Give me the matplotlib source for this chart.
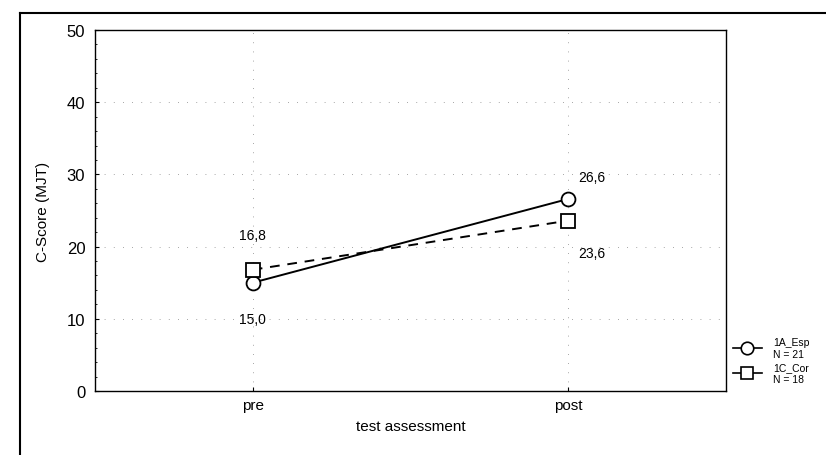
import matplotlib
matplotlib.use("Agg")
import matplotlib.pyplot as plt
from matplotlib.lines import Line2D
from matplotlib.ticker import MultipleLocator

categories = ["pre", "post"]
esp_values = [15.0, 26.6]
con_values = [16.8, 23.6]
esp_labels = ["15,0", "26,6"]
con_labels = ["16,8", "23,6"]
yticks = [0, 10, 20, 30, 40, 50]
legend_names = ["1A_Esp", "1C_Cor"]
legend_n = ["N = 21", "N = 18"]

plt.rcParams['font.family'] = ['Liberation Sans', 'DejaVu Sans']

fig = plt.figure(figsize=(8.26, 4.56), dpi=100)
W, H = 826, 456
L, R, T, B = 95, 726, 31, 392
ax = fig.add_axes([L / W, 1 - B / H, (R - L) / W, (B - T) / H])

x = list(range(len(categories)))
ax.plot(x, esp_values, color='black', lw=1.4, marker='o', ms=10,
        mfc='white', mec='black', mew=1.3, zorder=3)
ax.plot(x, con_values, color='black', lw=1.4, ls=(0, (5, 4)), marker='s', ms=10,
        mfc='white', mec='black', mew=1.3, zorder=3)

ax.set_xlim(-0.5, 1.5)
ax.set_ylim(0, 50)
ax.set_xticks(x)
ax.set_xticklabels(categories, fontsize=11)
ax.set_yticks(yticks)
ax.set_yticklabels([str(v) for v in yticks], fontsize=12)
ax.yaxis.set_minor_locator(MultipleLocator(2))
ax.tick_params(axis='both', which='major', direction='in', length=3, width=0.8, pad=5)
ax.tick_params(axis='y', which='major', pad=7)
ax.tick_params(axis='y', which='minor', direction='in', length=1.5, width=0.6)
ax.set_xlabel("test assessment", fontsize=11, labelpad=5)
ax.set_ylabel("C-Score (MJT)", fontsize=11, labelpad=12)

for sp in ax.spines.values():
    sp.set_linewidth(1.0)

ax.grid(True, which='major', color='#888888', lw=0.6, ls=(0, (1, 10)))

# value labels
ax.annotate(con_labels[0], (x[0], con_values[0]), xytext=(0, 25), textcoords='offset points',
            ha='center', va='center', fontsize=10)
ax.annotate(esp_labels[0], (x[0], esp_values[0]), xytext=(0, -26), textcoords='offset points',
            ha='center', va='center', fontsize=10)
ax.annotate(esp_labels[1], (x[1], esp_values[1]), xytext=(17, 16), textcoords='offset points',
            ha='center', va='center', fontsize=10)
ax.annotate(con_labels[1], (x[1], con_values[1]), xytext=(17, -23), textcoords='offset points',
            ha='center', va='center', fontsize=10)

# legend (outside, right, partly clipped)
for i, (name, n, mk) in enumerate(zip(legend_names, legend_n, ['o', 's'])):
    yc = 349 + i * 25
    yf = 1 - yc / H
    ln = Line2D([733 / W, 762 / W], [yf, yf], transform=fig.transFigure, color='black', lw=1.2)
    fig.add_artist(ln)
    mkr = Line2D([747 / W], [yf], transform=fig.transFigure, marker=mk, ms=9,
                 mfc='white', mec='black', mew=1.2, ls='none')
    fig.add_artist(mkr)
    fig.text(773 / W, 1 - (yc - 6.25) / H, name, fontsize=7.5, va='center', ha='left')
    fig.text(773 / W, 1 - (yc + 6.25) / H, n, fontsize=7.5, va='center', ha='left')

# outer frame lines (top and left)
fig.add_artist(Line2D([20 / W, 1.0], [1 - 14 / H, 1 - 14 / H], transform=fig.transFigure,
                      color='black', lw=1.5))
fig.add_artist(Line2D([20 / W, 20 / W], [0, 1 - 14 / H], transform=fig.transFigure,
                      color='black', lw=1.5))

fig.savefig("out.png", dpi=100)
